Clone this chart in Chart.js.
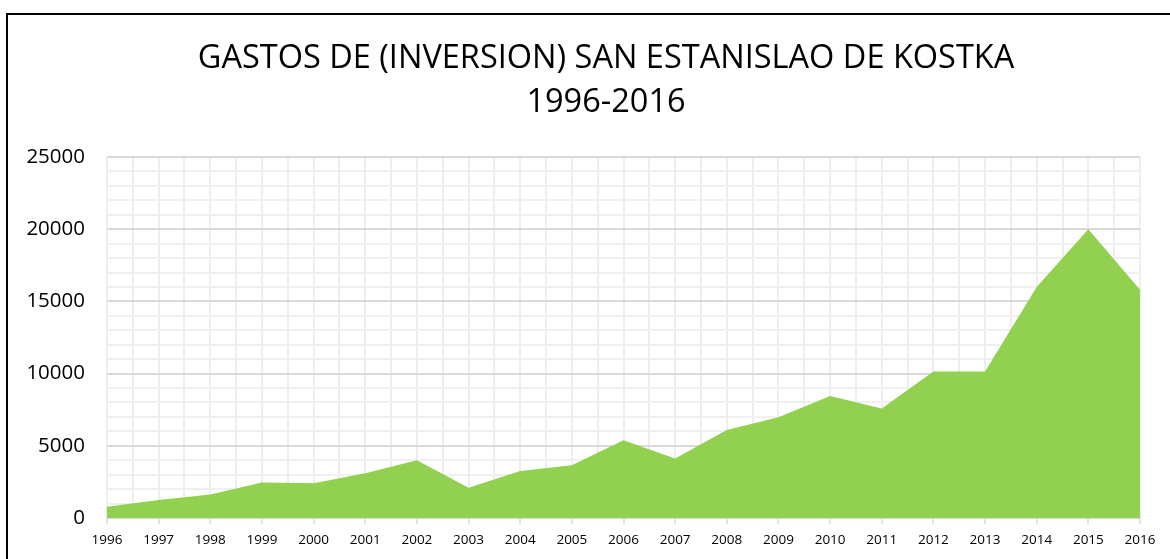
<!DOCTYPE html>
<html>
<head>
<meta charset="utf-8">
<script src="https://cdn.jsdelivr.net/npm/chart.js@4"></script>
<style>
  html, body { margin: 0; padding: 0; background: #fff; overflow: hidden; }
  #wrap { position: relative; width: 1170px; height: 559px; overflow: hidden; }
  #frame { position: absolute; left: 6px; top: 13px; width: 1200px; height: 600px;
           border-left: 2px solid #000; border-top: 2px solid #000; }
  #chart { position: absolute; left: 0; top: 0; }
</style>
</head>
<body>
<div id="wrap">
  <div id="frame"></div>
  <canvas id="chart" width="1212" height="559"></canvas>
</div>
<script>
const years = ["1996", "1997", "1998", "1999", "2000", "2001", "2002", "2003", "2004", "2005", "2006",
  "2007", "2008", "2009", "2010", "2011", "2012", "2013", "2014", "2015", "2016"];
const gastos = [780, 1250, 1620, 2450, 2400, 3100, 4000, 2100, 3250, 3650, 5380,
  4120, 6100, 6980, 8450, 7580, 10150, 10150, 16000, 20000, 15800];
const titleLine1 = "GASTOS DE (INVERSION) SAN ESTANISLAO DE KOSTKA";
const titleLine2 = "1996-2016";

const points = gastos.map((v, i) => ({ x: i, y: v }));

const fontName = "'Open Sans', sans-serif";

new Chart(document.getElementById("chart").getContext("2d"), {
  type: "line",
  data: {
    datasets: [{
      data: points,
      backgroundColor: "#92D050",
      borderWidth: 0,
      pointRadius: 0,
      fill: "origin",
      tension: 0
    }]
  },
  options: {
    responsive: false,
    animation: false,
    layout: { padding: 0 },
    plugins: {
      legend: { display: false },
      tooltip: { enabled: false },
      title: {
        display: true,
        text: titleLine1,
        color: "#000",
        font: { family: fontName, size: 32.5, weight: "normal", lineHeight: "44px" },
        padding: { top: 37, bottom: 0 }
      },
      subtitle: {
        display: true,
        text: titleLine2,
        color: "#000",
        font: { family: fontName, size: 32.5, weight: "normal", lineHeight: "44px" },
        padding: { top: 0, bottom: 32 }
      }
    },
    scales: {
      x: {
        type: "linear",
        min: 0,
        max: years.length - 1,
        afterFit: (scale) => { scale.height = 41; },
        afterBuildTicks: (scale) => {
          const t = [];
          for (let i = 0; i <= (years.length - 1) * 2; i++) t.push({ value: i / 2 });
          scale.ticks = t;
        },
        ticks: {
          autoSkip: false,
          maxRotation: 0,
          padding: 8,
          color: "#000",
          font: { family: fontName, size: 13.5 },
          callback: (v) => Number.isInteger(v) ? years[v] : ""
        },
        grid: {
          color: "#eeeeee",
          lineWidth: 2,
          tickLength: 6,
          tickWidth: 1.5,
          tickColor: (ctx) => Number.isInteger(ctx.tick && ctx.tick.value) ? "#d9d9d9" : "rgba(0,0,0,0)"
        },
        border: { display: false }
      },
      y: {
        min: 0,
        max: 25000,
        afterFit: (scale) => { scale.width = 107; },
        ticks: {
          stepSize: 1000,
          autoSkip: false,
          padding: 22,
          color: "#000",
          font: { family: fontName, size: 20.5 },
          callback: (v) => v % 5000 === 0 ? String(v) : ""
        },
        grid: {
          drawTicks: false,
          lineWidth: 2,
          color: (ctx) => ctx.tick && ctx.tick.value % 5000 === 0 ? "#d9d9d9" : "#f0f0f0"
        },
        border: { display: false }
      },
      // empty right axis: keeps the plot right edge at the reference position
      yRight: {
        position: "right",
        afterFit: (scale) => { scale.width = 72; },
        ticks: { display: false },
        grid: { display: false },
        border: { display: false }
      }
    }
  }
});
</script>
</body>
</html>
